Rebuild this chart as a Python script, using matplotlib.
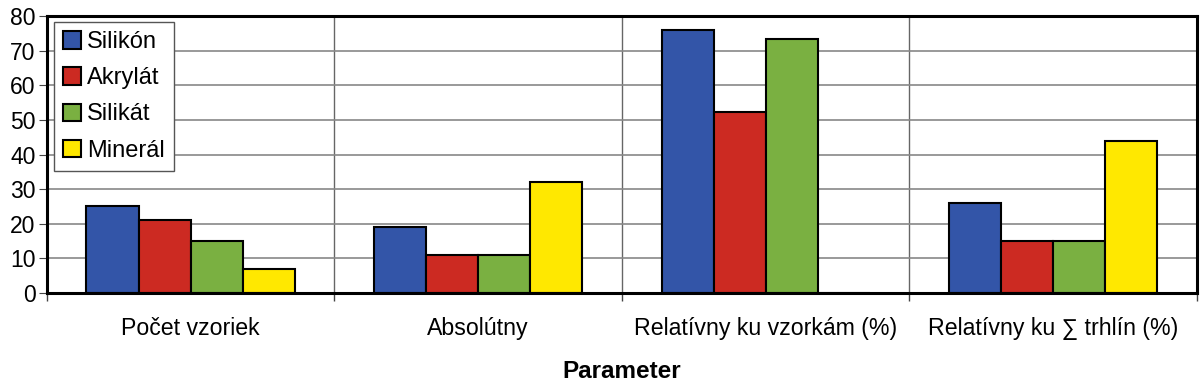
import numpy as np
import matplotlib.pyplot as plt

plt.rcParams['font.family'] = ['Liberation Sans', 'DejaVu Sans']

categories = ["Počet vzoriek", "Absolútny", "Relatívny ku vzorkám (%)", "Relatívny ku ∑ trhlín (%)"]
series_names = ["Silikón", "Akrylát", "Silikát", "Minerál"]
silikon = [25, 19, 76, 26]
akrylat = [21, 11, 52.4, 15]
silikat = [15, 11, 73.3, 15]
mineral = [7, 32, 0, 44]
values = [silikon, akrylat, silikat, mineral]
colors = ["#3355a8", "#cc2a22", "#7ab041", "#ffe800"]

fig, ax = plt.subplots(figsize=(12, 3.84), dpi=100)
fig.subplots_adjust(left=0.039, right=0.9975, top=0.958, bottom=0.237)

x = np.arange(len(categories))
w = 0.181
for i, (name, vals) in enumerate(zip(series_names, values)):
    ax.bar(x + (i - 1.5) * w, vals, width=w, color=colors[i], edgecolor="black",
           linewidth=1.5, label=name, zorder=3)

ax.set_xlim(-0.5, len(categories) - 0.5)
ax.set_ylim(0, 80)
ax.set_yticks(range(0, 81, 10))
ax.set_xticks(x)
ax.set_xticklabels(categories, fontsize=16.7)
ax.set_xticks(np.arange(-0.5, len(categories)), minor=True)
ax.tick_params(axis="x", which="major", length=0, pad=17)
ax.tick_params(axis="x", which="minor", length=6, color="#444444", width=1)
ax.tick_params(axis="y", labelsize=16.5, length=6, color="#444444", pad=2)

ax.grid(axis="y", color="#888888", linewidth=1.2, zorder=0)
ax.grid(axis="x", which="minor", color="#666666", linewidth=1, zorder=0)

for s in ax.spines.values():
    s.set_linewidth(2.2)
    s.set_color("black")
    s.set_zorder(4)

ax.set_xlabel("Parameter", fontsize=17.5, fontweight="bold", labelpad=15)

leg = ax.legend(loc="upper left", bbox_to_anchor=(0.006, 0.98), fontsize=17,
                fancybox=False, framealpha=1, edgecolor="#555555",
                handlelength=0.75, handleheight=0.75, handletextpad=0.25,
                labelspacing=0.6, borderpad=0.4, borderaxespad=0)
leg.get_frame().set_linewidth(1)
leg.set_zorder(5)

plt.savefig("out.png", dpi=100)
